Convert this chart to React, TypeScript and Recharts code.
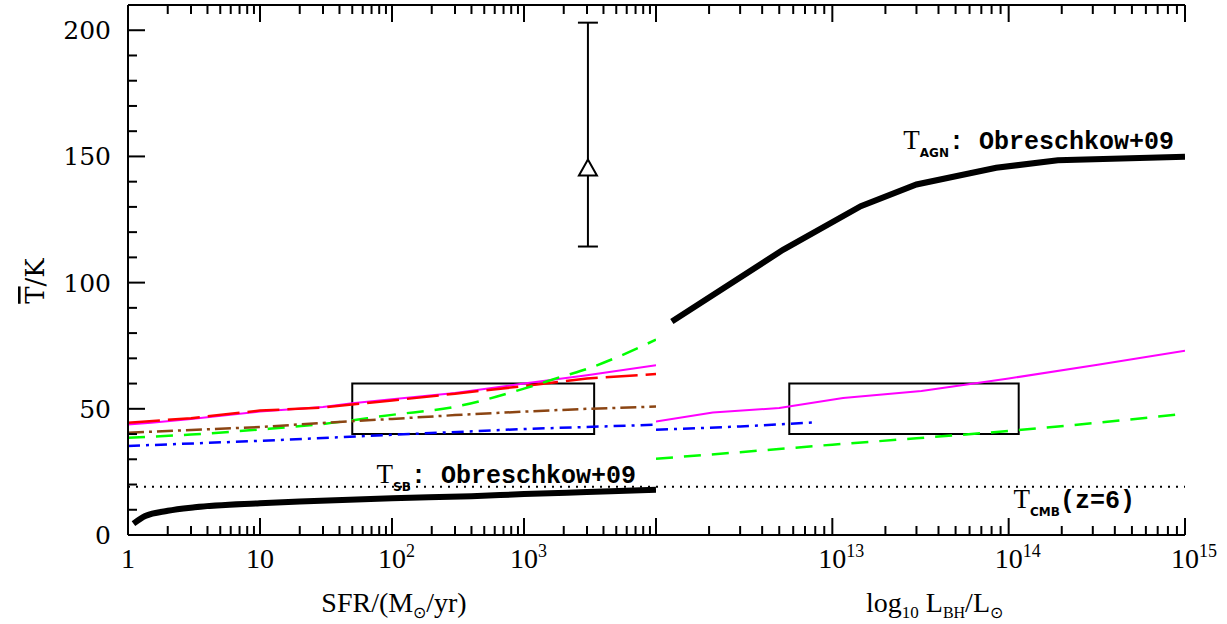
import React from 'react';
import {
  ComposedChart, Line, Scatter, ErrorBar, XAxis, YAxis,
  ReferenceLine, ReferenceArea, ReferenceDot,
} from 'recharts';

// ---- left panel: star formation rate (Msun/yr) ----
const SFR_MAGENTA = [1, 1.5, 3, 10, 30, 50, 100, 300, 1000, 3000, 10000];
const T_MAGENTA_L = [43.8, 44.5, 46, 48.9, 50.7, 52.2, 53.8, 56.3, 60, 63.3, 67.3];

const SFR_RED = [1, 3, 10, 30, 100, 300, 1000, 3000, 10000];
const T_RED = [44.5, 46.3, 49.3, 50.5, 53.3, 56, 59, 62, 63.8];

const SFR_GREEN = [1, 3, 10, 30, 100, 300, 1000, 2000, 3000, 5000, 10000];
const T_GREEN_L = [38.5, 39.8, 41.8, 44, 47.6, 50.8, 58, 63, 65.8, 70.3, 77.4];

const SFR_BROWN = [1, 10, 30, 100, 300, 1000, 3000, 10000];
const T_BROWN = [40.5, 42.8, 44.4, 46, 47.5, 48.9, 50, 50.9];

const SFR_BLUE = [1, 10, 100, 1000, 10000];
const T_BLUE_L = [35.3, 37.3, 39.7, 42, 43.7];

const SFR_SB = [1.1, 1.35, 2, 3.2, 10, 20, 100, 400, 1000, 3000, 10000];
const T_SB = [4.5, 7.5, 9.6, 11, 12.6, 13.3, 14.6, 15.4, 16.2, 17, 17.9];

const OBS = [{ x: 3050, y: 144.8, err: [30.5, 58.2] }];

// ---- right panel: black hole luminosity (Lsun) ----
const L_AGN = [1.23e12, 5.25e12, 1.45e13, 3.0e13, 8.5e13, 1.9e14, 1e15];
const T_AGN = [84.6, 113, 130.3, 138.9, 145.5, 148.5, 149.9];

const L_MAGENTA = [1e12, 2.1e12, 5e12, 1.15e13, 3.2e13, 1e14, 3.2e14, 1e15];
const T_MAGENTA_R = [45, 48.5, 50.3, 54.3, 57.1, 62, 67.5, 73];

const L_BLUE = [1e12, 3e12, 8e12];
const T_BLUE_R = [41.7, 43, 44.6];

const L_GREEN = [1e12, 3e12, 1e13, 3e13, 1e14, 3e14, 1e15];
const T_GREEN_R = [30.2, 32.8, 35.8, 38.3, 41.2, 44.3, 48];

const T_CMB_Z6 = 19.1;

const Y_TICKS = [0, 10, 20, 30, 40, 50, 60, 70, 80, 90, 100, 110, 120, 130, 140, 150, 160, 170, 180, 190, 200];
const LEFT_DECADES = [1, 10, 100, 1000, 10000];
const RIGHT_DECADES = [1e12, 1e13, 1e14, 1e15];
const LEFT_LABELS = [0, 1, 2, 3];      // exponents that get a label
const RIGHT_LABELS = [13, 14, 15];

const pts = (xs: number[], ys: number[]) => xs.map((x, i) => ({ x, y: ys[i] }));
const logTicks = (decades: number[]) => {
  const out: number[] = [];
  decades.forEach((d, i) => {
    out.push(d);
    if (i < decades.length - 1) for (let m = 2; m <= 9; m++) out.push(d * m);
  });
  return out;
};

const SERIF = '"Liberation Serif", serif';
const NUMF = '"DejaVu Serif", serif';
const MONO = '"Liberation Mono", monospace';
const AX = { stroke: '#000', strokeWidth: 2 };

const isDecade = (v: number) => {
  const e = Math.round(Math.log10(v));
  return Math.abs(v / Math.pow(10, e) - 1) < 1e-6;
};

const xTick = (labels: number[], dir: 1 | -1) => (props: any) => {
  const { x, y, payload } = props;
  const v = payload.value;
  const major = isDecade(v);
  const e = Math.round(Math.log10(v));
  const len = major ? 17 : 9;
  let lab = null;
  if (dir === -1 && major && labels.includes(e)) {
    if (e === 0 || e === 1) {
      lab = <text x={x} y={y + 33} textAnchor="middle" fontFamily={SERIF} fontSize={28}>{e === 0 ? '1' : '10'}</text>;
    } else {
      lab = (
        <text x={x - 14} y={y + 33} textAnchor="start" fontFamily={SERIF} fontSize={28}>
          10<tspan fontSize={18} dy={-11}>{e}</tspan>
        </text>
      );
    }
  }
  return (
    <g>
      <line x1={x} y1={y} x2={x} y2={y + dir * len} stroke="#000" strokeWidth={2} />
      {lab}
    </g>
  );
};

const yTick = (dir: 1 | -1, withLabel: boolean) => (props: any) => {
  const { x, y, payload } = props;
  const v = payload.value;
  const major = v % 50 === 0;
  return (
    <g>
      <line x1={x} y1={y} x2={x + dir * (major ? 17 : 9)} y2={y} stroke="#000" strokeWidth={2} />
      {withLabel && major && (
        <text x={x - 17} y={y} dy={9} textAnchor="end" fontFamily={NUMF} fontSize={25}>{v}</text>
      )}
    </g>
  );
};

const annot = (sub: string, rest: string) => (props: any) => {
  const vb = props.viewBox;
  return (
    <text x={vb.x} y={vb.y} textAnchor="end" fontFamily={MONO} fontWeight="bold" fontSize={25}>
      <tspan fontFamily={SERIF} fontWeight="normal" fontSize={27}>T</tspan>
      <tspan fontFamily='"DejaVu Sans", sans-serif' fontSize={12} dy={8}>{sub}</tspan>
      <tspan dy={-8}>{rest}</tspan>
    </text>
  );
};

const yTitle = (props: any) => {
  const vb = props.viewBox;
  const cy = vb.y + vb.height / 2 + 11;
  return (
    <text x={35} y={cy} transform={`rotate(-90, 35, ${cy})`} textAnchor="middle" dy={9}
      fontFamily={NUMF} fontSize={26}>
      <tspan style={{ textDecoration: 'overline' }}>T</tspan>/K
    </text>
  );
};

const sfrTitle = (props: any) => {
  const vb = props.viewBox;
  return (
    <text x={vb.x + vb.width / 2 + 2} y={vb.y + 77} textAnchor="middle" fontFamily={SERIF} fontSize={28}>
      SFR/(M<tspan fontSize={16} dy={6}>{'\u2299'}</tspan><tspan dy={-6}>/yr)</tspan>
    </text>
  );
};

const lbhTitle = (props: any) => {
  const vb = props.viewBox;
  return (
    <text x={vb.x + vb.width / 2 + 14} y={vb.y + 77} textAnchor="middle" fontFamily={SERIF} fontSize={28}>
      log<tspan fontSize={17} dy={6}>10</tspan>
      <tspan dy={-6}> L</tspan><tspan fontSize={16} dy={6}>BH</tspan>
      <tspan dy={-6}>/L</tspan><tspan fontSize={16} dy={6}>{'\u2299'}</tspan>
    </text>
  );
};

const triangle = (props: any) => {
  const { cx, cy } = props;
  return <path d={`M${cx},${cy - 10}L${cx + 9},${cy + 6}L${cx - 9},${cy + 6}Z`} fill="#fff" stroke="#000" strokeWidth={2} />;
};

const lineProps = { dot: false, activeDot: false, isAnimationActive: false, dataKey: 'y', type: 'linear' as const };

const frameAxes = (decades: number[], labels: number[], showYLabels: boolean, title: any) => [
  <XAxis key="xb" xAxisId={0} dataKey="x" type="number" scale="log" domain={[decades[0], decades[decades.length - 1]]}
    allowDataOverflow ticks={logTicks(decades)} interval={0} height={89} tickSize={0} tickMargin={0}
    tickLine={false} axisLine={AX} tick={xTick(labels, -1)} label={{ content: title }} />,
  <XAxis key="xt" xAxisId="top" orientation="top" dataKey="x" type="number" scale="log"
    domain={[decades[0], decades[decades.length - 1]]} allowDataOverflow ticks={logTicks(decades)} interval={0}
    height={1} tickSize={0} tickMargin={0} tickLine={false} axisLine={AX} tick={xTick([], 1)} />,
  <YAxis key="yl" yAxisId={0} type="number" domain={[0, 210]} allowDataOverflow ticks={Y_TICKS} interval={0}
    width={showYLabels ? 128 : 0} tickSize={0} tickMargin={0} tickLine={false} axisLine={AX}
    tick={yTick(1, showYLabels)} label={showYLabels ? { content: yTitle } : undefined} />,
  <YAxis key="yr" yAxisId="r" orientation="right" type="number" domain={[0, 210]} allowDataOverflow ticks={Y_TICKS}
    interval={0} width={0} tickSize={0} tickMargin={0} tickLine={false} axisLine={AX} tick={yTick(-1, false)} />,
];

const LeftPanel = () => (
  <ComposedChart width={660} height={624} margin={{ top: 4, right: 4, bottom: 0, left: 0 }}>
    {frameAxes(LEFT_DECADES, LEFT_LABELS, true, sfrTitle)}
    <ReferenceLine y={T_CMB_Z6} stroke="#000" strokeWidth={2} strokeDasharray="2 6" />
    <ReferenceArea x1={50} x2={3400} y1={40} y2={60} fill="none" fillOpacity={0} stroke="#000" strokeWidth={2} />
    <Line {...lineProps} data={pts(SFR_MAGENTA, T_MAGENTA_L)} stroke="#ff00ff" strokeWidth={2} />
    <Line {...lineProps} data={pts(SFR_RED, T_RED)} stroke="#ff0000" strokeWidth={2.5} strokeDasharray="32 8" />
    <Line {...lineProps} type="monotone" data={pts(SFR_GREEN, T_GREEN_L)} stroke="#00ff00" strokeWidth={2.5} strokeDasharray="17 11" />
    <Line {...lineProps} data={pts(SFR_BROWN, T_BROWN)} stroke="#8b4513" strokeWidth={2.5} strokeDasharray="16 5 3 5" />
    <Line {...lineProps} data={pts(SFR_BLUE, T_BLUE_L)} stroke="#0000ff" strokeWidth={2.5} strokeDasharray="12 6 3 6" />
    <Line {...lineProps} type="monotone" data={pts(SFR_SB, T_SB)} stroke="#000" strokeWidth={6} />
    <Scatter data={OBS} dataKey="y" isAnimationActive={false} shape={triangle}>
      <ErrorBar dataKey="err" direction="y" width={10} stroke="#000" strokeWidth={2} />
    </Scatter>
    <ReferenceDot x={7050} y={20.6} r={0} label={{ content: annot('SB', ': Obreschkow+09') }} />
  </ComposedChart>
);

const RightPanel = () => (
  <ComposedChart width={627} height={624} margin={{ top: 4, right: 42, bottom: 0, left: 56 }}>
    {frameAxes(RIGHT_DECADES, RIGHT_LABELS, false, lbhTitle)}
    <ReferenceLine y={T_CMB_Z6} stroke="#000" strokeWidth={2} strokeDasharray="2 6" />
    <ReferenceArea x1={5.7e12} x2={1.14e14} y1={40} y2={60} fill="none" fillOpacity={0} stroke="#000" strokeWidth={2} />
    <Line {...lineProps} data={pts(L_MAGENTA, T_MAGENTA_R)} stroke="#ff00ff" strokeWidth={2} />
    <Line {...lineProps} data={pts(L_GREEN, T_GREEN_R)} stroke="#00ff00" strokeWidth={2.5} strokeDasharray="17 11" />
    <Line {...lineProps} data={pts(L_BLUE, T_BLUE_R)} stroke="#0000ff" strokeWidth={2.5} strokeDasharray="12 6 3 6" />
    <Line {...lineProps} data={pts(L_AGN, T_AGN)} stroke="#000" strokeWidth={6} />
    <ReferenceDot x={8.67e14} y={152.8} r={0} label={{ content: annot('AGN', ': Obreschkow+09') }} />
    <ReferenceDot x={5.2e14} y={10.7} r={0} label={{ content: annot('CMB', '(z=6)') }} />
  </ComposedChart>
);

export default function App() {
  return (
    <div style={{ position: 'absolute', left: 0, top: 0, width: 1227, height: 624, background: '#fff' }}>
      <div style={{ position: 'absolute', left: 0, top: 0 }}>
        <LeftPanel />
      </div>
      <div style={{ position: 'absolute', left: 600, top: 0 }}>
        <RightPanel />
      </div>
    </div>
  );
}
